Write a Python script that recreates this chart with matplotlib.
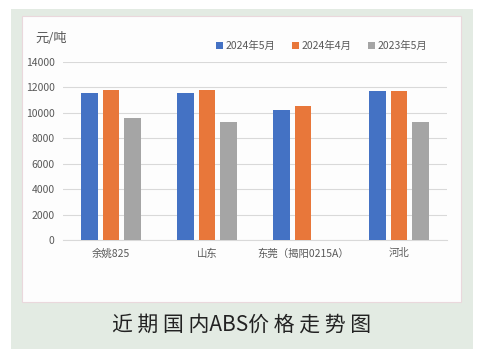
import numpy as np
import matplotlib
matplotlib.use('Agg')
import matplotlib.pyplot as plt
from matplotlib.patches import Rectangle

plt.rcParams['font.family'] = ['Noto Sans CJK SC', 'DejaVu Sans']

# data
categories = ['余姚825', '山东', '东莞（揭阳0215A）', '河北']
series_names = ['2024年5月', '2024年4月', '2023年5月']
may_2024 = [11600, 11600, 10200, 11700]
apr_2024 = [11800, 11800, 10550, 11700]
may_2023 = [9600, 9300, np.nan, 9300]
colors = ['#4472c4', '#e8773a', '#a5a5a5']
yticks = [0, 2000, 4000, 6000, 8000, 10000, 12000, 14000]

fig = plt.figure(figsize=(4.84, 3.6), dpi=100)
fig.patch.set_facecolor('white')

# green panel and white chart box (behind the axes)
fig.patches.append(Rectangle((11/484, 1-349/360), 462/484, 340/360,
                             transform=fig.transFigure, facecolor='#e3ebe3',
                             edgecolor='none', zorder=-3))
fig.patches.append(Rectangle((22/484, 1-302/360), 439/484, 286/360,
                             transform=fig.transFigure, facecolor='#fdfdfd',
                             edgecolor='#ead8dc', linewidth=0.8, zorder=-2))

ax = fig.add_axes([63/484, 1-240/360, 384/484, 178/360])
ax.set_facecolor('none')

x = np.arange(len(categories))
w = 0.177
step = 0.224
for i, (vals, name) in enumerate(zip([may_2024, apr_2024, may_2023], series_names)):
    ax.bar(x + (i-1)*step, vals, width=w, color=colors[i], label=name, zorder=3)

ax.set_xlim(-0.5, len(categories)-0.5)
ax.set_ylim(0, 14000)
ax.set_yticks(yticks)
ax.set_yticklabels([str(t) for t in yticks])
ax.set_xticks(x)
ax.set_xticklabels(categories)
ax.grid(axis='y', color='#d9d9d9', linewidth=0.8, zorder=0)
for s in ax.spines.values():
    s.set_visible(False)
ax.spines['bottom'].set_visible(True)
ax.spines['bottom'].set_color('#d9d9d9')
ax.tick_params(axis='both', length=0, labelsize=7.5, labelcolor='#595959')
ax.tick_params(axis='y', pad=6)
ax.tick_params(axis='x', pad=6)

fig.text(35/484, 1-38/360, '元/吨', fontsize=9.5, color='#595959', va='center', ha='left')

fig.legend(loc='center', bbox_to_anchor=(322/484, 1-46/360), ncol=3, frameon=False,
           fontsize=7.5, handlelength=0.6, handleheight=0.6, handletextpad=0.3,
           columnspacing=1.6, labelcolor='#595959')

fig.text(0.5, 1-325/360, '近 期 国 内ABS价 格 走 势 图', fontsize=15, color='#222222',
         ha='center', va='center')

fig.savefig('out.png', dpi=100)
